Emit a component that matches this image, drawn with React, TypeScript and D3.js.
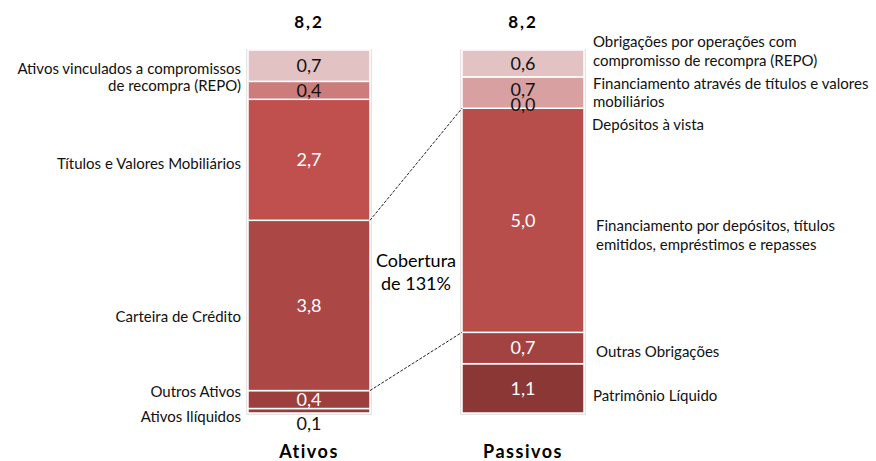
import * as React from "react";
import * as d3 from "d3";

// bottom → top
const ativosValues = [0.1, 0.4, 3.8, 2.7, 0.4, 0.7];
const ativosColors = ["#963b39", "#9c3e3c", "#ab4845", "#c0504d", "#cc7d7b", "#e3c2c4"];
const ativosText = ["#111", "#fff", "#fff", "#fff", "#111", "#111"];

const passivosValues = [1.1, 0.7, 5.0, 0.0, 0.7, 0.6];
const passivosColors = ["#8a3736", "#a24341", "#b84e4b", "#b84e4b", "#d8a0a0", "#e3c2c4"];
const passivosText = ["#fff", "#fff", "#fff", "#111", "#111", "#111"];

const totals = ["8,2", "8,2"];
const categories = ["Ativos", "Passivos"];

const ativosLabels = [
  ["Ativos Ilíquidos"],
  ["Outros Ativos"],
  ["Carteira de Crédito"],
  ["Títulos e Valores Mobiliários"],
  ["Ativos vinculados a compromissos", "de recompra (REPO)"],
];
const passivosLabels = [
  ["Patrimônio Líquido"],
  ["Outras Obrigações"],
  ["Financiamento por depósitos, títulos", "emitidos, empréstimos e repasses"],
  ["Depósitos à vista"],
  ["Financiamento através de títulos e valores", "mobiliários"],
  ["Obrigações por operações com", "compromisso de recompra (REPO)"],
];

const FONT = "Lato, 'Open Sans', sans-serif";
const W = 876;
const H = 461;

const fmt = (v: number) => v.toFixed(1).replace(".", ",");

function stackOf(values: number[]) {
  let acc = 0;
  return values.map((v) => {
    const s = { y0: acc, y1: acc + v, v };
    acc += v;
    return s;
  });
}

export default function App() {
  const y = d3.scaleLinear().domain([0, 8.1]).range([413, 50]);
  const x = d3.scaleBand().domain(categories).range([248, 584]).paddingInner(0.43).paddingOuter(0);
  const bw = x.bandwidth();
  const xa = x("Ativos")!;
  const xp = x("Passivos")!;
  const sa = stackOf(ativosValues);
  const sp = stackOf(passivosValues);

  const bar = (stack: ReturnType<typeof stackOf>, x0: number, colors: string[], texts: string[], key: string) => (
    <g key={key}>
      <rect x={x0 - 2} y={y(8.1) - 1} width={bw + 4} height={y(0) - y(8.1) + 3} fill="#e4e4e4" />
      {stack.map((s, i) => (
        <rect key={i} x={x0} y={y(s.y1)} width={bw} height={Math.max(0, y(s.y0) - y(s.y1))}
          fill={colors[i]} stroke="#fff" strokeWidth={1.5} />
      ))}
      {stack.map((s, i) => {
        let cy = (y(s.y0) + y(s.y1)) / 2;
        if (s.v < 0.2 && s.v > 0) cy = y(0) + 11;
        if (s.v === 0) cy = y(s.y0) - 4;
        if (key === "p" && i === 4) cy -= 3;
        return (
          <text key={"t" + i} x={x0 + bw / 2} y={cy} dy="0.35em" textAnchor="middle"
            fontSize={18} fill={texts[i]} fontFamily={FONT}>{fmt(s.v)}</text>
        );
      })}
    </g>
  );

  const aMid = (i: number) => (y(sa[i].y0) + y(sa[i].y1)) / 2;

  return (
    <svg width={W} height={H} style={{ display: "block", position: "absolute", left: 0, top: 0 }}>
      <rect width={W} height={H} fill="#fff" />
      {bar(sa, xa, ativosColors, ativosText, "a")}
      {bar(sp, xp, passivosColors, passivosText, "p")}

      {/* totals */}
      {categories.map((c, i) => (
        <text key={c} x={x(c)! + bw / 2} y={22} dy="0.35em" textAnchor="middle" fontSize={17}
          fontWeight="bold" fontFamily={FONT} letterSpacing={2}>{totals[i]}</text>
      ))}
      {categories.map((c) => (
        <text key={"c" + c} x={x(c)! + bw / 2} y={452} dy="0.35em" textAnchor="middle" fontSize={18}
          fontWeight="bold" fontFamily={FONT} letterSpacing={1.5}>{c}</text>
      ))}

      {/* left labels */}
      <g fontFamily={FONT} fontSize={15} textAnchor="end" fill="#111">
        <text x={241} y={417} dy="0.35em">{ativosLabels[0][0]}</text>
        <text x={241} y={392} dy="0.35em">{ativosLabels[1][0]}</text>
        <text x={241} y={aMid(2) + 11} dy="0.35em">{ativosLabels[2][0]}</text>
        <text x={241} y={aMid(3) + 4} dy="0.35em">{ativosLabels[3][0]}</text>
        <text x={241} y={69} dy="0.35em">{ativosLabels[4][0]}</text>
        <text x={241} y={86} dy="0.35em">{ativosLabels[4][1]}</text>
      </g>

      {/* right labels */}
      <g fontFamily={FONT} fontSize={15} fill="#111">
        <text x={593} y={396} dy="0.35em">{passivosLabels[0][0]}</text>
        <text x={596} y={352} dy="0.35em">{passivosLabels[1][0]}</text>
        <text x={596} y={226} dy="0.35em">{passivosLabels[2][0]}</text>
        <text x={596} y={245} dy="0.35em">{passivosLabels[2][1]}</text>
        <text x={592} y={125} dy="0.35em">{passivosLabels[3][0]}</text>
        <text x={593} y={84} dy="0.35em">{passivosLabels[4][0]}</text>
        <text x={593} y={102} dy="0.35em">{passivosLabels[4][1]}</text>
        <text x={593} y={42} dy="0.35em">{passivosLabels[5][0]}</text>
        <text x={593} y={61} dy="0.35em">{passivosLabels[5][1]}</text>
      </g>

      {/* coverage connectors */}
      <line x1={xa + bw} y1={y(sa[2].y1)} x2={xp} y2={y(sp[2].y1)} stroke="#222" strokeDasharray="3,1.5" />
      <line x1={xa + bw} y1={y(sa[2].y0)} x2={xp} y2={y(sp[2].y0)} stroke="#222" strokeDasharray="3,1.5" />
      <text x={(xa + bw + xp) / 2} y={261} dy="0.35em" textAnchor="middle" fontSize={18} fontFamily={FONT}>Cobertura</text>
      <text x={(xa + bw + xp) / 2} y={284} dy="0.35em" textAnchor="middle" fontSize={18} fontFamily={FONT}>de 131%</text>
    </svg>
  );
}
